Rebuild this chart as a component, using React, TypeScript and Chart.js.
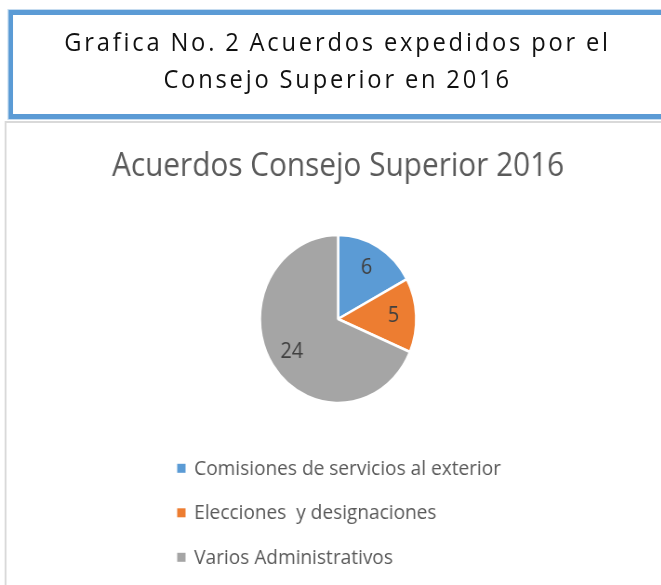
import { useEffect, useRef } from "react";
import { Chart, registerables } from "chart.js";

Chart.register(...registerables);

const headerLines = ["Grafica No. 2 Acuerdos expedidos por el", "Consejo Superior en 2016"];
const chartTitle = "Acuerdos Consejo Superior 2016";
const categories = [
  "Comisiones de servicios al exterior",
  "Elecciones  y designaciones",
  "Varios Administrativos",
];
const values = [6, 5, 24];
const colors = ["#5B9BD5", "#ED7D31", "#A5A5A5"];

const SX = 0.93;

const dataLabels = {
  id: "dataLabels",
  afterDatasetsDraw(chart: any) {
    const ctx = chart.ctx;
    const meta = chart.getDatasetMeta(0);
    const data = chart.data.datasets[0].data;
    ctx.save();
    ctx.font = "21.5px 'Open Sans'";
    ctx.fillStyle = "#404040";
    ctx.textAlign = "center";
    ctx.textBaseline = "middle";
    meta.data.forEach((arc: any, i: number) => {
      const { x, y, startAngle, endAngle, outerRadius } = arc.getProps(
        ["x", "y", "startAngle", "endAngle", "outerRadius"],
        true
      );
      const mid = (startAngle + endAngle) / 2;
      const r = outerRadius * 0.71;
      ctx.fillText(String(data[i]), x + Math.cos(mid) * r, y + Math.sin(mid) * r);
    });
    ctx.restore();
  },
};

const stackedLegend = {
  id: "stackedLegend",
  afterDraw(chart: any) {
    const { ctx, chartArea } = chart;
    const cx = (chartArea.left + chartArea.right) / 2;
    const x0 = cx - 173;
    const y0 = chartArea.bottom + 22.7;
    const ds = chart.data.datasets[0];
    ctx.save();
    ctx.font = "20.5px 'Open Sans'";
    ctx.textBaseline = "middle";
    ctx.textAlign = "left";
    chart.data.labels.forEach((label: string, i: number) => {
      const y = y0 + i * 44.5;
      ctx.fillStyle = ds.backgroundColor[i];
      ctx.fillRect(x0, y - 4.5, 9, 9);
      ctx.fillStyle = "#595959";
      ctx.fillText(label, x0 + 18.3, y + 0.5);
    });
    ctx.restore();
  },
};

export default function App() {
  const canvasRef = useRef<HTMLCanvasElement | null>(null);

  useEffect(() => {
    if (!canvasRef.current) return;
    const chart = new Chart(canvasRef.current, {
      type: "pie",
      data: {
        labels: categories,
        datasets: [
          {
            data: values,
            backgroundColor: colors,
            borderColor: "#ffffff",
            borderWidth: 2.5,
            radius: 84,
          } as any,
        ],
      },
      options: {
        responsive: false,
        animation: false,
        events: [],
        layout: { padding: { left: 16, right: 0, top: 0, bottom: 139.4 } },
        plugins: {
          legend: { display: false },
          tooltip: { enabled: false },
          title: {
            display: true,
            text: chartTitle,
            color: "#5a5a5a",
            font: { family: "'Open Sans'", size: 32, weight: "normal" },
            padding: { top: 24, bottom: 6 },
          },
        },
      } as any,
      plugins: [dataLabels, stackedLegend],
    });
    return () => chart.destroy();
  }, []);

  return (
    <div
      style={{
        position: "absolute",
        left: 0,
        top: 0,
        width: 661,
        height: 585,
        overflow: "hidden",
        background: "#ffffff",
      }}
    >
      <div
        style={{
          position: "absolute",
          left: 0,
          top: 0,
          width: 711,
          height: 585,
          transform: `scaleX(${SX})`,
          transformOrigin: "0 0",
        }}
      >
        <div
          style={{
            position: "absolute",
            left: 8.6,
            top: 10,
            width: 740,
            height: 109,
            boxSizing: "border-box",
            border: "5px solid #5B9BD5",
            boxShadow: "0 0 0 1px rgba(91,155,213,0.35)",
          }}
        />
        <div
          style={{
            position: "absolute",
            left: 0,
            top: 23,
            width: 726,
            textAlign: "center",
            fontFamily: "'Open Sans'",
            fontSize: 25.5,
            lineHeight: "37px",
            letterSpacing: "3px",
            wordSpacing: "-1px",
            color: "#111111",
          }}
        >
          {headerLines.map((l, i) => (
            <div key={i}>{l}</div>
          ))}
        </div>
        <div
          style={{
            position: "absolute",
            left: 5.4,
            top: 121,
            width: 800,
            height: 600,
            boxSizing: "border-box",
            border: "2px solid #D9D9D9",
          }}
        />
        <canvas
          ref={canvasRef}
          width={711}
          height={461}
          style={{ position: "absolute", left: 0, top: 124 }}
        />
      </div>
    </div>
  );
}
